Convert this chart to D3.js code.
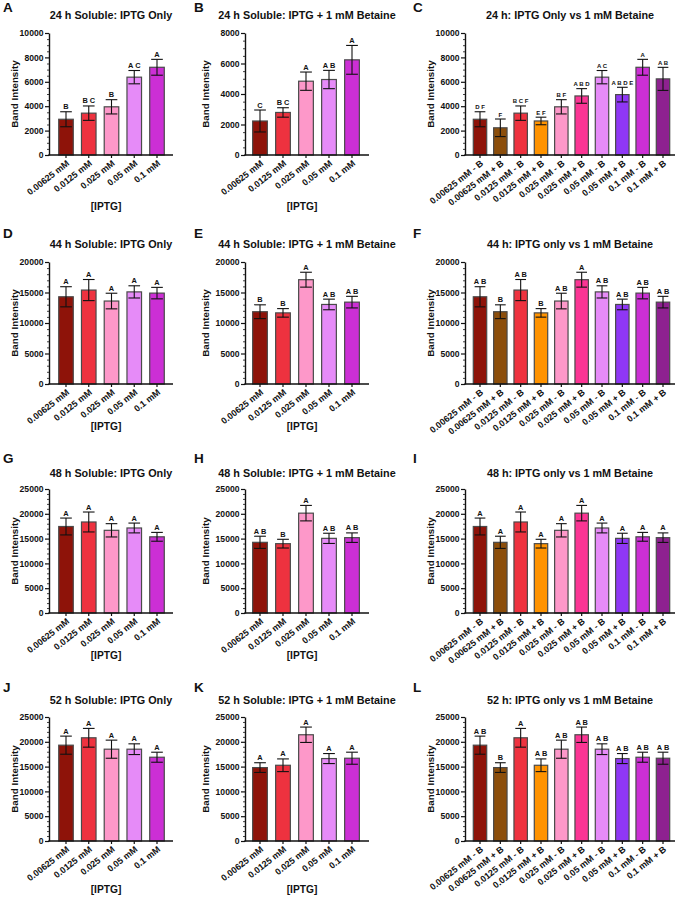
<!DOCTYPE html>
<html><head><meta charset="utf-8">
<script src="https://cdn.jsdelivr.net/npm/d3@7"></script>
<style>
body{margin:0;background:#fff}
svg{display:block}
text{font-family:"Liberation Sans",Arial,Helvetica,sans-serif;font-weight:bold;fill:#111}
</style>
</head><body>
<svg id="chart" width="678" height="899"></svg>
<script>
// ---------- categories ----------
const concLabels = ["0.00625 mM","0.0125 mM","0.025 mM","0.05 mM","0.1 mM"];
const comboLabels = ["0.00625 mM - B","0.00625 mM + B","0.0125 mM - B","0.0125 mM + B",
  "0.025 mM - B","0.025 mM + B","0.05 mM - B","0.05 mM + B","0.1 mM - B","0.1 mM + B"];
const colors5 = ["#8e1309","#ee323f","#fd98c9","#e68bf8","#cc2fd5"];
const colors10 = ["#8e1309","#8c4e0b","#ee323f","#ff9300","#fd98c9","#fb3594","#e68bf8","#8f37f6","#cc2fd5","#8e2190"];

// ---------- 24 h ----------
const only24 = [2930, 3430, 3950, 6380, 7190];
const only24Err = [615, 590, 585, 545, 650];
const bet24 = [2230, 2790, 4840, 4950, 6240];
const bet24Err = [720, 310, 600, 600, 945];
const sig24Only = ["B","B C","B","A C","A"];
const sig24Bet = ["C","B C","A","A B","A"];
const sig24Combo = ["D F","F","B C F","E F","B F","A B D","A C","A B D E","A","A B"];
// ---------- 44 h ----------
const only44 = [14300, 15400, 13600, 15100, 14900];
const only44Err = [1650, 1730, 1280, 1000, 940];
const bet44 = [11850, 11660, 17100, 13040, 13420];
const bet44Err = [1130, 700, 1220, 870, 950];
const sig44Only = ["A","A","A","A","A"];
const sig44Bet = ["B","B","A","A B","A B"];
const sig44Combo = ["A B","B","A B","B","A B","A","A B","A B","A B","A B"];
// ---------- 48 h ----------
const only48 = [17440, 18350, 16670, 17140, 15360];
const only48Err = [1700, 2010, 1340, 990, 890];
const bet48 = [14250, 13980, 20130, 15050, 15190];
const bet48Err = [1230, 880, 1560, 1030, 960];
const sig48Only = ["A","A","A","A","A"];
const sig48Bet = ["A B","B","A","A B","A B"];
const sig48Combo = ["A","A","A","A","A","A","A","A","A","A"];
// ---------- 52 h ----------
const only52 = [19320, 20810, 18510, 18510, 16890];
const only52Err = [1825, 1890, 1825, 1080, 1010];
const bet52 = [14800, 15270, 21420, 16620, 16690];
const bet52Err = [980, 1280, 1550, 1010, 1215];
const sig52Only = ["A","A","A","A","A"];
const sig52Bet = ["A","A","A","A","A"];
const sig52Combo = ["A B","B","A","A B","A B","A B","A B","A B","A B","A B"];

// ---------- axis settings ----------
const yMaxRow = [[10000, 8000, 10000], [20000, 20000, 20000], [25000, 25000, 25000], [25000, 25000, 25000]];
const yStepRow = [[2000, 2000, 2000], [5000, 5000, 5000], [5000, 5000, 5000], [5000, 5000, 5000]];
const panelLetters = ["A","B","C","D","E","F","G","H","I","J","K","L"];
const hours = ["24","44","48","52"];

function interleave(a, b){ const o=[]; a.forEach((v,i)=>{o.push(v); o.push(b[i]);}); return o; }

const timeData = [
  {only:only24, oErr:only24Err, bet:bet24, bErr:bet24Err, sO:sig24Only, sB:sig24Bet, sC:sig24Combo, comboTitle:"24 h: IPTG Only vs 1 mM Betaine"},
  {only:only44, oErr:only44Err, bet:bet44, bErr:bet44Err, sO:sig44Only, sB:sig44Bet, sC:sig44Combo, comboTitle:"44 h: IPTG only vs 1 mM Betaine"},
  {only:only48, oErr:only48Err, bet:bet48, bErr:bet48Err, sO:sig48Only, sB:sig48Bet, sC:sig48Combo, comboTitle:"48 h: IPTG only vs 1 mM Betaine"},
  {only:only52, oErr:only52Err, bet:bet52, bErr:bet52Err, sO:sig52Only, sB:sig52Bet, sC:sig52Combo, comboTitle:"52 h: IPTG only vs 1 mM Betaine"}
];

// ---------- layout ----------
const rows = [
  {top:33,  zero:155, title:19,  letter:12,  xTitle:210},
  {top:262, zero:384, title:248, letter:238, xTitle:430},
  {top:489, zero:613, title:477, letter:463, xTitle:659},
  {top:717, zero:841, title:704, letter:692, xTitle:893}
];
const cols = [
  {axisX:49,  end:173, c0:66,  cN:157, yLabX:15,  letX:3},
  {axisX:245, end:369, c0:260, cN:352, yLabX:206, letX:194},
  {axisX:465, end:675, c0:480, cN:663, yLabX:431, letX:413}
];

const svg = d3.select("#chart");

timeData.forEach((td, ri) => {
  const panels = [
    {cats:concLabels, vals:td.only, errs:td.oErr, sig:td.sO, colors:colors5, title:hours[ri]+" h Soluble: IPTG Only", xt:true},
    {cats:concLabels, vals:td.bet, errs:td.bErr, sig:td.sB, colors:colors5, title:hours[ri]+" h Soluble: IPTG + 1 mM Betaine", xt:true},
    {cats:comboLabels, vals:interleave(td.only, td.bet), errs:interleave(td.oErr, td.bErr), sig:td.sC, colors:colors10, title:td.comboTitle, xt:false}
  ];
  panels.forEach((p, ci) => {
    const r = rows[ri], c = cols[ci];
    const g = svg.append("g");
    const n = p.cats.length;
    const step = (c.cN - c.c0) / (n - 1);
    const pad = ci === 2 ? 0.34 : 0.36;
    const x = d3.scaleBand().domain(p.cats)
      .range([c.c0 - step/2, c.cN + step/2]).paddingInner(pad).paddingOuter(pad/2);
    const yMax = yMaxRow[ri][ci], yStep = yStepRow[ri][ci];
    const y = d3.scaleLinear().domain([0, yMax]).range([r.zero, r.top]);

    // panel letter
    g.append("text").attr("x", c.letX).attr("y", r.letter).attr("font-size", 13.5).text(panelLetters[ri*3+ci]);
    // title
    g.append("text").attr("x", (c.axisX + c.end)/2).attr("y", r.title).attr("text-anchor","middle")
      .attr("font-size", 10.8).text(p.title);
    // y label
    g.append("text").attr("transform", `translate(${c.yLabX},${(r.top + r.zero)/2}) rotate(-90)`)
      .attr("text-anchor","middle").attr("dy","0.35em").attr("font-size", 9.8).text("Band Intensity");

    // minor ticks
    const minorStep = yStep === 2000 ? 500 : 1000;
    const minors = d3.range(0, yMax + 1, minorStep).filter(v => v % yStep !== 0);
    const ym = g.append("g").attr("transform", `translate(${c.axisX},0)`)
      .call(d3.axisLeft(y).tickValues(minors).tickSize(2).tickSizeOuter(0).tickFormat(""));
    ym.select(".domain").remove();
    ym.selectAll("line").attr("stroke","#111").attr("stroke-width",0.8);

    // y axis
    const ya = g.append("g").attr("transform", `translate(${c.axisX},0)`)
      .call(d3.axisLeft(y).tickValues(d3.range(0, yMax + 1, yStep)).tickSize(4).tickSizeOuter(0).tickPadding(1.5).tickFormat(d3.format("d")));
    ya.select(".domain").attr("stroke","#111").attr("stroke-width",1.4);
    ya.selectAll(".tick line").attr("stroke","#111").attr("stroke-width",1.2);
    ya.selectAll("text").attr("font-size", 8.6).attr("font-family",null).attr("fill","#111");

    // bars
    g.selectAll("rect.bar").data(p.vals).join("rect")
      .attr("x", (d,i) => x(p.cats[i]))
      .attr("width", x.bandwidth())
      .attr("y", d => y(d))
      .attr("height", d => y(0) - y(d))
      .attr("fill", (d,i) => p.colors[i])
      .attr("stroke", "#4a4a4a").attr("stroke-width", 1.2);

    // error bars
    const capW = x.bandwidth() * 0.8;
    p.vals.forEach((v, i) => {
      const cx = x(p.cats[i]) + x.bandwidth()/2;
      const e = p.errs[i];
      const eg = g.append("g").attr("stroke","#111").attr("stroke-width",1.1);
      eg.append("line").attr("x1",cx).attr("x2",cx).attr("y1",y(v+e)).attr("y2",y(v-e));
      eg.append("line").attr("x1",cx-capW/2).attr("x2",cx+capW/2).attr("y1",y(v+e)).attr("y2",y(v+e));
      eg.append("line").attr("x1",cx-capW/2).attr("x2",cx+capW/2).attr("y1",y(v-e)).attr("y2",y(v-e));
      g.append("text").attr("x", cx).attr("y", y(v+e) - 2.5).attr("text-anchor","middle")
        .attr("font-size", (ri === 0 && ci === 2) ? 6 : 7.4).text(p.sig[i]);
    });

    // x axis
    const xa = g.append("g").attr("transform", `translate(0,${r.zero})`)
      .call(d3.axisBottom(x).tickSize(3).tickSizeOuter(0).tickPadding(0));
    xa.select(".domain").remove();
    xa.selectAll(".tick line").attr("stroke","#111").attr("stroke-width",1.2);
    xa.selectAll(".tick text")
      .attr("font-size", 9).attr("font-family",null).attr("fill","#111")
      .attr("text-anchor","end").attr("y",0).attr("dy","0.35em")
      .attr("transform","translate(2,7) rotate(-38)");
    g.append("line").attr("x1", c.axisX - 0.7).attr("x2", c.end).attr("y1", r.zero).attr("y2", r.zero)
      .attr("stroke","#111").attr("stroke-width",1.4);

    if (p.xt) {
      g.append("text").attr("x", (c.axisX + c.end)/2 - 5).attr("y", r.xTitle).attr("text-anchor","middle")
        .attr("font-size", 10.2).text("[IPTG]");
    }
  });
});
</script>
</body></html>
